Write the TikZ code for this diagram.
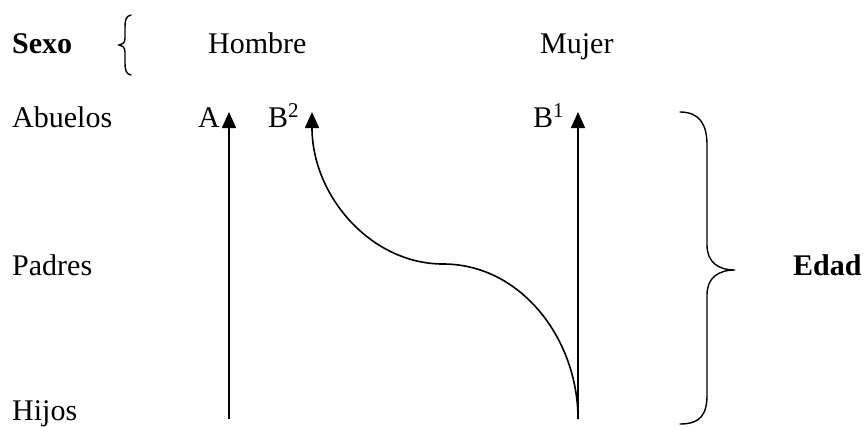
\documentclass[tikz,border=0pt]{standalone}
\usepackage{fontspec}
\setmainfont{Liberation Serif}
\usepackage{tikz}
\usetikzlibrary{arrows.meta, positioning, calc}
\tikzset{
	lbl/.style     ={anchor=base west, inner sep=0pt, font=\fontsize{30}{36}\selectfont},
	hdr/.style     ={lbl, font=\fontsize{30}{36}\selectfont\bfseries},
	linea/.style   ={-{Triangle[length=16pt, width=14pt]}, line width=1.6pt},
	% braces
	llave/.style   ={line width=1.4pt, line cap=round},
}
\begin{document}
\begin{tikzpicture}[x=1pt, y=-1pt]
	\useasboundingbox (0,0) rectangle (867,426);
	% headings
	\node[hdr] (sexo) at (12,53) {Sexo};
	\node[lbl] (hombre) at (208,53) {Hombre};
	\node[lbl] (mujer) at (540,53) {Mujer};
	\node[hdr] (edad) at (793,275) {Edad};
	% generations
	\node[lbl] (abuelos) at (12,127) {Abuelos};
	\node[lbl] (padres) at (12,275) {Padres};
	\node[lbl] (hijos) at (12,420) {Hijos};
	% lineages
	\node[lbl] (labA) at (198,127) {A};
	\node[lbl] (labBdos) at (268,127) {B\textsuperscript{2}};
	\node[lbl] (labBuno) at (533,127) {B\textsuperscript{1}};
	\coordinate (aTop) at (229,112);
	\coordinate (aBot) at (229,419);
	\coordinate (bdosTop) at (312,112);
	\coordinate (bunoTop) at (578,112);
	\coordinate (bunoBot) at (578,419);
	\coordinate (cruce) at (443,264);
	\draw[linea] (aBot) -- (aTop);
	\draw[linea] (bunoBot) -- (bunoTop);
	\draw[linea] (bunoBot) .. controls +(0,-80) and +(78,0) .. (cruce)
		.. controls +(-72,0) and +(0,84) .. (bdosTop);
	% left brace (sexo)
	\draw[llave] (131,15) .. controls (126,16) and (125,20) .. (125,27) -- (125,38)
		.. controls (125,43) and (122,45) .. (119,45)
		.. controls (122,45) and (125,47) .. (125,52) -- (125,63)
		.. controls (125,70) and (126,74) .. (131,75);
	% right brace (edad)
	\draw[llave] (680,112) .. controls (700,112) and (707,125) .. (707,145) -- (707,245)
		.. controls (707,262) and (718,270) .. (735,270)
		.. controls (718,270) and (707,278) .. (707,295) -- (707,395)
		.. controls (707,415) and (700,424) .. (680,424);
\end{tikzpicture}
\end{document}
